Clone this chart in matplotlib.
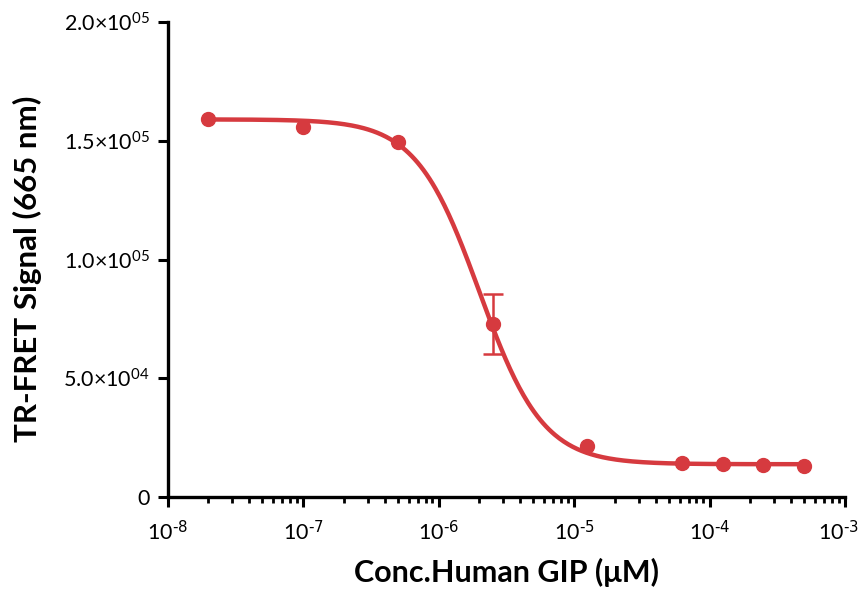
import numpy as np
import matplotlib
matplotlib.use("Agg")
import matplotlib.pyplot as plt
import matplotlib.transforms as mtransforms
from matplotlib.ticker import FixedLocator, LogLocator, NullFormatter

plt.rcParams['font.family'] = ['Lato', 'DejaVu Sans']

# data
conc = [2e-8, 1e-7, 5e-7, 2.5e-6, 1.25e-5, 6.25e-5, 1.25e-4, 2.5e-4, 5e-4]
signal = [1.592e5, 1.558e5, 1.495e5, 0.728e5, 0.215e5, 0.143e5, 0.139e5, 0.135e5, 0.131e5]
err = [0, 0, 0, 0.126e5, 0, 0, 0, 0, 0]

# 4PL fit parameters (estimated)
top, bottom, ic50, hill = 1.59e5, 1.38e4, 2.0e-6, 1.85

yticks = [0, 5e4, 1e5, 1.5e5, 2e5]
ytick_labels = ["0",
                r"$\mathregular{5.0{\times}10^{04}}$",
                r"$\mathregular{1.0{\times}10^{05}}$",
                r"$\mathregular{1.5{\times}10^{05}}$",
                r"$\mathregular{2.0{\times}10^{05}}$"]
xticks = [1e-8, 1e-7, 1e-6, 1e-5, 1e-4, 1e-3]
xtick_labels = [r"$\mathregular{10^{\text{-8}}}$", r"$\mathregular{10^{\text{-7}}}$",
                r"$\mathregular{10^{\text{-6}}}$", r"$\mathregular{10^{\text{-5}}}$",
                r"$\mathregular{10^{\text{-4}}}$", r"$\mathregular{10^{\text{-3}}}$"]

red = '#d63a3f'

fig = plt.figure(figsize=(8.6, 5.92), dpi=100)
ax = fig.add_axes([0.195, 0.1605, 0.7876, 0.8023])

xx = np.logspace(np.log10(conc[0]), np.log10(conc[-1]), 400)
yy = bottom + (top - bottom) / (1 + (xx / ic50) ** hill)
ax.plot(xx, yy, color=red, lw=3.2, zorder=2)

ax.plot(conc, signal, 'o', color=red, ms=10, zorder=3)
# only the one point that has a visible error bar
idx = [i for i, e in enumerate(err) if e > 0]
ax.errorbar([conc[i] for i in idx], [signal[i] for i in idx], yerr=[err[i] for i in idx],
            fmt='none', ecolor=red, elinewidth=1.8, capsize=7, capthick=1.8, zorder=3)

ax.set_xscale('log')
ax.set_xlim(1e-8, 1e-3)
ax.set_ylim(0, 2e5)

ax.xaxis.set_major_locator(FixedLocator(xticks))
ax.set_xticklabels(xtick_labels)
ax.xaxis.set_minor_locator(LogLocator(base=10, subs=np.arange(2, 10)))
ax.xaxis.set_minor_formatter(NullFormatter())
ax.set_yticks(yticks)
ax.set_yticklabels(ytick_labels)

for s in ['top', 'right']:
    ax.spines[s].set_visible(False)
for s in ['left', 'bottom']:
    ax.spines[s].set_linewidth(2.4)

ax.tick_params(axis='both', which='major', direction='out', length=7, width=2.2,
               labelsize=15.5, color='black', pad=6)
ax.tick_params(axis='x', which='major', pad=9)
ax.tick_params(axis='x', which='minor', direction='out', length=4.5, width=2.0)

# keep the last x label inside the figure
last = ax.get_xticklabels()[-1]
last.set_transform(last.get_transform() + mtransforms.ScaledTranslation(-5 / 72, 0, fig.dpi_scale_trans))

ax.set_xlabel('Conc.Human GIP (μM)', fontsize=22, fontweight='bold', labelpad=10)
ax.set_ylabel('TR-FRET Signal (665 nm)', fontsize=22.5, fontweight='bold')
ax.yaxis.set_label_coords(-0.186, 0.48)

fig.savefig('out.png', dpi=100)
